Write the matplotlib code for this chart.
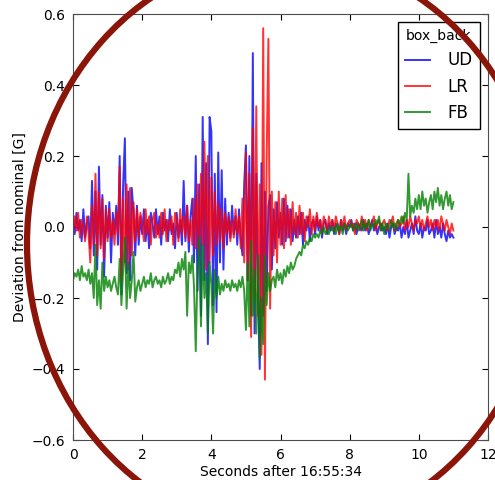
"""Box-back magnetometer deviation plot, classic matplotlib look."""

import numpy as np
import matplotlib
matplotlib.use("Agg")
import matplotlib.pyplot as plt
from matplotlib.patches import Ellipse

# samples every 0.05 s from 0 to 11 s
seconds = np.linspace(0, 11, 221)

ud = [
    0.03, -0.02, 0.04, -0.01, 0.02, -0.04, 0.05, -0.03, 0.01, 0.03,
    -0.06, 0.13, -0.08, 0.10, -0.12, 0.17, -0.05, 0.09, -0.14, 0.06,
    -0.03, 0.07, -0.10, 0.04, -0.02, 0.06, -0.05, 0.20, -0.19, 0.12,
    0.25, -0.13, 0.10, -0.15, 0.11, 0.04, -0.08, 0.06, -0.05, 0.03,
    -0.02, 0.05, -0.04, 0.02, -0.06, 0.04, 0.01, -0.03, 0.05, -0.02,
    0.03, -0.05, 0.04, -0.01, 0.02, -0.04, 0.05, -0.02, 0.01, -0.06,
    0.04, -0.03, 0.02, -0.05, 0.13, -0.04, 0.06, -0.07, 0.03, 0.08,
    -0.10, 0.20, -0.18, 0.12, -0.25, 0.31, -0.15, 0.18, -0.33, 0.31,
    0.27, -0.22, 0.15, -0.24, 0.21, -0.10, 0.16, -0.12, 0.08, -0.05,
    0.04, -0.03, 0.06, -0.02, 0.03, -0.05, 0.05, -0.03, -0.08, 0.12,
    0.23, -0.15, 0.20, -0.25, 0.49, -0.30, 0.15, -0.20, -0.40, 0.18,
    -0.25, 0.10, -0.18, 0.06, 0.09, -0.12, 0.05, -0.06, 0.07, -0.03,
    0.04, -0.05, 0.08, -0.04, 0.06, -0.03, 0.05, -0.04, 0.02, -0.03,
    0.03, -0.02, 0.04, -0.05, 0.02, -0.01, 0.03, -0.04, 0.01, 0.02,
    -0.02, 0.03, -0.01, 0.02, -0.03, 0.01, 0.02, -0.02, 0.01, -0.01,
    0.02, -0.02, 0.01, 0.00, -0.02, 0.02, -0.01, 0.01, -0.02, 0.01,
    0.00, 0.02, -0.01, 0.01, -0.02, 0.01, 0.00, -0.01, 0.02, -0.01,
    0.01, -0.02, 0.00, 0.02, -0.01, 0.01, -0.02, 0.00, 0.01, -0.01,
    0.00, -0.02, 0.01, -0.03, 0.00, 0.01, -0.02, 0.00, -0.01, 0.01,
    -0.03, 0.00, -0.02, 0.02, -0.03, -0.01, 0.01, -0.02, 0.03, -0.01,
    -0.02, 0.01, -0.03, 0.00, -0.01, 0.02, -0.02, -0.01, 0.01, -0.03,
    0.02, -0.02, 0.00, -0.03, 0.01, -0.02, -0.04, -0.01, -0.03, -0.02,
    -0.03,
]

lr = [
    -0.02, 0.03, -0.01, 0.04, -0.03, 0.02, 0.00, -0.04, 0.03, -0.02,
    -0.10, 0.06, -0.05, 0.15, -0.08, 0.10, -0.06, 0.08, -0.09, 0.05,
    -0.04, 0.05, -0.03, 0.02, -0.05, 0.04, -0.02, 0.17, -0.15, 0.08,
    -0.10, 0.12, -0.12, 0.11, -0.08, 0.07, -0.04, 0.05, -0.03, 0.04,
    0.01, -0.04, 0.05, -0.02, 0.03, -0.05, 0.02, 0.04, -0.03, 0.01,
    -0.03, 0.04, -0.02, 0.05, -0.04, 0.02, -0.01, 0.03, -0.05, 0.04,
    0.02, -0.04, 0.05, -0.02, 0.03, -0.03, 0.06, -0.04, 0.02, -0.05,
    0.08, -0.06, 0.12, -0.08, 0.15, -0.05, 0.24, -0.12, 0.20, -0.10,
    0.14, -0.08, 0.10, -0.05, 0.07, -0.04, 0.05, -0.06, 0.04, -0.02,
    0.03, -0.04, 0.02, -0.03, 0.05, -0.02, 0.03, -0.06, 0.08, -0.10,
    0.21, -0.15, 0.15, -0.31, 0.28, -0.20, 0.34, -0.25, 0.12, -0.36,
    0.56, -0.43, 0.20, 0.53, -0.23, 0.10, -0.08, 0.07, -0.10, 0.10,
    -0.05, 0.08, -0.06, 0.09, -0.03, 0.05, -0.05, 0.07, -0.02, 0.04,
    -0.03, 0.06, -0.02, 0.04, -0.04, 0.03, 0.00, 0.05, -0.02, 0.03,
    -0.01, 0.04, 0.00, 0.02, -0.02, 0.03, 0.01, -0.01, 0.03, 0.00,
    0.02, -0.01, 0.03, 0.01, -0.02, 0.02, 0.00, 0.03, -0.01, 0.01,
    0.02, 0.00, 0.01, -0.02, 0.02, 0.01, -0.01, 0.03, 0.00, 0.02,
    -0.01, 0.02, 0.00, 0.01, 0.03, -0.01, 0.01, 0.02, -0.01, 0.01,
    0.02, 0.00, -0.01, 0.02, 0.01, 0.03, -0.01, 0.01, 0.02, 0.00,
    0.01, 0.03, -0.01, 0.02, 0.00, 0.03, 0.01, -0.01, 0.02, 0.01,
    0.03, 0.00, 0.02, -0.01, 0.01, 0.03, 0.00, 0.02, -0.01, 0.02,
    0.00, 0.02, -0.01, 0.03, 0.01, -0.01, 0.02, 0.00, -0.02, 0.01,
    -0.01,
]

fb = [
    -0.15, -0.13, -0.14, -0.12, -0.15, -0.11, -0.14, -0.13, -0.15, -0.12,
    -0.16, -0.13, -0.20, -0.05, -0.22, -0.15, -0.23, -0.10, -0.18, -0.14,
    -0.17, -0.15, -0.18, -0.16, -0.14, -0.17, -0.19, -0.09, -0.22, -0.12,
    -0.03, -0.23, -0.10, -0.20, -0.15, -0.07, -0.21, -0.17, -0.15, -0.18,
    -0.16, -0.14, -0.17, -0.15, -0.16, -0.13, -0.17, -0.15, -0.14, -0.16,
    -0.15, -0.17, -0.14, -0.16, -0.15, -0.13, -0.16, -0.14, -0.15, -0.12,
    -0.13, -0.10, -0.14, -0.09, -0.12, -0.07, -0.25, -0.10, -0.13, -0.08,
    -0.17, -0.35, -0.12, -0.03, -0.28, -0.05, -0.20, -0.13, -0.30, -0.10,
    -0.16, -0.30, -0.12, -0.20, -0.14, -0.19, -0.16, -0.18, -0.15, -0.17,
    -0.16, -0.18, -0.15, -0.17, -0.16, -0.18, -0.15, -0.17, -0.14, -0.18,
    -0.29, -0.10, -0.28, -0.04, -0.25, -0.12, -0.30, -0.08, -0.37, -0.20,
    -0.33, -0.08, -0.22, -0.13, -0.18, -0.15, -0.14, -0.17, -0.12, -0.15,
    -0.13, -0.16, -0.12, -0.14, -0.11, -0.13, -0.10, -0.12, -0.11, -0.09,
    -0.08, -0.07, -0.08, -0.05, -0.06, -0.04, -0.05, -0.03, -0.04, -0.02,
    -0.03, -0.02, -0.03, -0.01, -0.02, 0.00, -0.02, -0.01, -0.02, 0.00,
    -0.01, 0.00, -0.02, 0.01, -0.01, 0.00, -0.02, 0.01, 0.00, -0.01,
    0.00, 0.01, -0.01, 0.00, 0.01, -0.01, 0.00, 0.02, -0.01, 0.01,
    0.00, 0.02, -0.01, 0.01, 0.00, 0.02, 0.01, 0.03, -0.01, 0.01,
    -0.02, 0.01, 0.00, -0.01, 0.02, 0.00, 0.01, -0.01, 0.02, 0.01,
    0.03, 0.01, 0.04, 0.02, 0.15, 0.03, 0.06, 0.04, 0.08, 0.05,
    0.09, 0.05, 0.10, 0.06, 0.08, 0.04, 0.07, 0.09, 0.05, 0.10,
    0.07, 0.11, 0.06, 0.09, 0.05, 0.08, 0.10, 0.06, 0.09, 0.05,
    0.07,
]

series = [("UD", ud, "b"), ("LR", lr, "r"), ("FB", fb, "g")]

fig = plt.figure(figsize=(4.95, 4.8), dpi=100, facecolor="white")
ax = fig.add_axes([73 / 495, 40 / 480, 415 / 495, 426 / 480])

for name, vals, color in series:
    ax.plot(seconds, vals, color=color, linewidth=1.4, alpha=0.8, label=name)

ax.set_xlim(0, 12)
ax.set_ylim(-0.6, 0.6)
ax.set_xticks(np.arange(0, 13, 2))
ax.set_yticks(np.arange(-0.6, 0.61, 0.2))
ax.set_yticklabels(["\u22120.6", "\u22120.4", "\u22120.2", "0.0", "0.2", "0.4", "0.6"])
ax.tick_params(direction="in", top=True, right=True, length=4, labelsize=10, pad=6)
for sp in ax.spines.values():
    sp.set_color("0.3")
ax.set_xlabel("Seconds after 16:55:34", fontsize=10, labelpad=2)
ax.set_ylabel("Deviation from nominal [G]", fontsize=10, labelpad=3)

leg = ax.legend(title="box_back", loc="upper right", fontsize=12,
                title_fontsize=10, fancybox=False, framealpha=1,
                edgecolor="black", handlelength=1.5, handletextpad=1.1,
                borderaxespad=0.5)
leg.get_frame().set_linewidth(1.0)

# hand-drawn style annotation ring
ring = Ellipse((285 / 495, 1 - 244 / 480), 516 / 495, 576 / 480,
               transform=fig.transFigure, fill=False,
               edgecolor="#8b1509", linewidth=4.5, zorder=10)
fig.add_artist(ring)

fig.savefig("out.png", dpi=100)
